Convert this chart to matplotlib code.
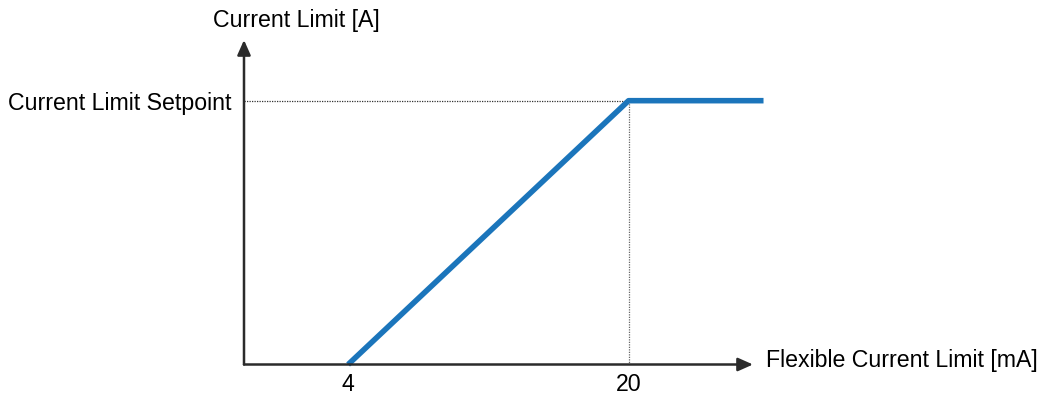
import matplotlib.pyplot as plt

plt.rcParams['font.family'] = ['Liberation Sans', 'DejaVu Sans']

# characteristic: flexible current limit input (mA) -> current limit (fraction of setpoint)
input_ma = [4, 20, 27.7]
limit_frac = [0, 1, 1]
x_ticks = [4, 20]
x_tick_labels = ['4', '20']
setpoint = 1

fig = plt.figure(figsize=(10.45, 3.98), dpi=100)
ax = fig.add_axes([244 / 1045, 33.5 / 398, 509 / 1045, 324.5 / 398])
ax.set_xlim(-1.94, 27.1)
ax.set_ylim(0, 1.23)
for s in ax.spines.values():
    s.set_visible(False)

# axes with arrow heads
arrow = dict(arrowstyle='-|>,head_length=0.9,head_width=0.4', color='#2b2b2b', lw=1.8,
             shrinkA=0, shrinkB=0)
ax.annotate('', xy=(1, 0), xytext=(0, 0), xycoords='axes fraction', arrowprops=arrow,
            annotation_clip=False)
ax.annotate('', xy=(0, 1), xytext=(0, 0), xycoords='axes fraction', arrowprops=arrow,
            annotation_clip=False)

# dotted guides to the breakpoint
ax.plot([ax.get_xlim()[0], input_ma[1]], [setpoint, setpoint], ls=(0, (1, 1)),
        color='#333333', lw=0.9)
ax.plot([input_ma[1], input_ma[1]], [0, setpoint], ls=(0, (1, 1)), color='#666666', lw=0.9)

ax.plot(input_ma, limit_frac, color='#1b75bb', lw=4, solid_capstyle='butt', clip_on=False)

fs = 16.7
ax.set_xticks(x_ticks)
ax.set_xticklabels(x_tick_labels, fontsize=fs)
ax.set_yticks([setpoint])
ax.set_yticklabels(['Current Limit Setpoint'], fontsize=fs)
ax.tick_params(axis='x', length=0, pad=6)
ax.tick_params(axis='y', length=0, pad=9)

fig.text(213 / 1045, 1 - 20 / 398, 'Current Limit [A]', fontsize=fs, ha='left', va='center')
fig.text(766 / 1045, 1 - 361 / 398, 'Flexible Current Limit [mA]', fontsize=fs,
         ha='left', va='center')

fig.savefig('out.png', dpi=100)
